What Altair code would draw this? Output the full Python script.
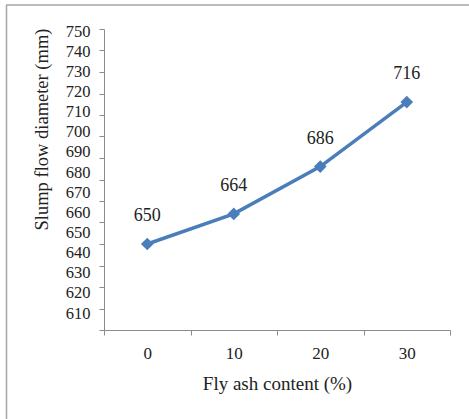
import altair as alt
import pandas as pd

fly_ash = ["0", "10", "20", "30"]
slump = [650, 664, 686, 716]
y_ticks = [610, 620, 630, 640, 650, 660, 670, 680, 690, 700, 710, 720, 730, 740, 750]

df = pd.DataFrame({"fly": fly_ash, "slump": slump})

FONT = "Liberation Serif"
BLUE = "#4a7ebb"
AXIS_GRAY = "#8c8c8c"

x_enc = alt.X(
    "fly:N",
    sort=fly_ash,
    scale=alt.Scale(paddingInner=0, paddingOuter=0),
    axis=alt.Axis(
        title="Fly ash content (%)",
        labelAngle=0,
        tickBand="extent",
        tickSize=5,
        labelPadding=10,
        titlePadding=13,
        labelFontSize=17,
        titleFontSize=19,
    ),
)
y_enc = alt.Y(
    "slump:Q",
    scale=alt.Scale(domain=[610, 750], nice=False, zero=False),
    axis=alt.Axis(
        title="Slump flow diameter (mm)",
        values=y_ticks,
        tickSize=5,
        labelPadding=9,
        labelOverlap=False,
        labelFlush=False,
        labelBound=False,
        labelFontSize=16.5,
        labelOffset={"expr": "2 - (750 - datum.value) * 0.135"},
        titleX=-63,
        titleY=100,
        titleAngle=270,
        titleAlign="center",
        titleBaseline="middle",
        titleFontSize=18.5,
    ),
)

base = alt.Chart(df)
line = base.mark_line(
    color=BLUE,
    strokeWidth=3.5,
    point=alt.OverlayMarkDef(shape="diamond", size=160, filled=True, color=BLUE),
).encode(x=x_enc, y=y_enc)

labels = base.mark_text(dy=-28, fontSize=18, font=FONT, color="#222").encode(
    x=x_enc, y=y_enc, text="slump:Q"
)

one = alt.Data(values=[{}])
top_border = alt.Chart(one).mark_rule(color="#a6a6a6", strokeWidth=1.5).encode(
    x=alt.value(-98), x2=alt.value(370), y=alt.value(-24)
)
left_border = alt.Chart(one).mark_rule(color="#a6a6a6", strokeWidth=1.5).encode(
    x=alt.value(-97.5), y=alt.value(-24), y2=alt.value(395)
)

chart = (
    alt.layer(line, labels, top_border, left_border)
    .properties(
        width=346,
        height=301,
        autosize=alt.AutoSizeParams(type="none"),
        padding={"left": 104, "top": 29, "right": 19, "bottom": 89},
    )
    .configure_view(stroke=None)
    .configure_axis(
        grid=False,
        domainColor=AXIS_GRAY,
        tickColor=AXIS_GRAY,
        domainWidth=1,
        labelFont=FONT,
        titleFont=FONT,
        labelColor="#222",
        titleColor="#222",
        titleFontWeight="normal",
    )
)

chart.save("out.html", embed_options={"renderer": "svg", "actions": False})
